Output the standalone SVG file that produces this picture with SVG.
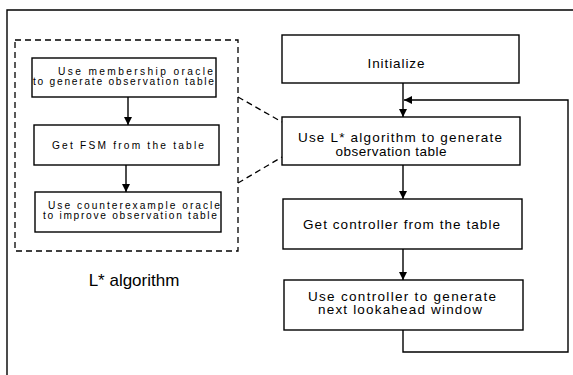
<svg xmlns="http://www.w3.org/2000/svg" width="573" height="375" viewBox="0 0 573 375">
<style>
.box{fill:#fff;stroke:#000;stroke-width:1.4}
.t{font-family:"Liberation Sans",Arial,sans-serif;font-size:13.5px;fill:#000;text-anchor:middle}
.s{font-family:"Liberation Sans",Arial,sans-serif;font-size:10.2px;fill:#000}
.ln{fill:none;stroke:#000;stroke-width:1.4}
.dash{fill:none;stroke:#000;stroke-width:1.3;stroke-dasharray:6,4}
</style>
<defs>
<marker id="ah" viewBox="0 0 10 10" refX="10" refY="5" markerWidth="8" markerHeight="11" markerUnits="userSpaceOnUse" orient="auto">
<path d="M0,0 L10,5 L0,10 z" fill="#000"/>
</marker>
</defs>
<rect width="573" height="375" fill="#fff"/>
<path class="ln" d="M7,375 V10 H573"/>
<g id="lstar-group">
<rect class="dash" x="15" y="40" width="223" height="211"/>
<text x="134" y="286" font-family="Liberation Sans, Arial, sans-serif" font-size="17" text-anchor="middle">L* algorithm</text>
</g>
<g id="n-membership">
<rect class="box" x="32" y="58" width="184" height="39"/>
<text class="s" x="213" y="74.5" text-anchor="end" textLength="155" lengthAdjust="spacing">Use membership oracle</text>
<text class="s" x="214" y="85" text-anchor="end" textLength="181" lengthAdjust="spacing">to generate observation table</text>
</g>
<g id="n-fsm">
<rect class="box" x="34" y="125" width="185" height="40"/>
<text class="s" x="52" y="148.5" textLength="152" lengthAdjust="spacing">Get FSM from the table</text>
</g>
<g id="n-counter">
<rect class="box" x="35" y="192" width="186" height="40"/>
<text class="s" x="220" y="208.5" text-anchor="end" textLength="172" lengthAdjust="spacing">Use counterexample oracle</text>
<text class="s" x="217" y="219" text-anchor="end" textLength="174" lengthAdjust="spacing">to improve observation table</text>
</g>
<g id="n-init">
<rect class="box" x="282" y="35" width="237" height="48"/>
<text class="t" x="396" y="68" textLength="57" lengthAdjust="spacing">Initialize</text>
</g>
<g id="n-lstar">
<rect class="box" x="282" y="117" width="238" height="48"/>
<text class="t" x="400" y="142" textLength="204" lengthAdjust="spacing">Use L* algorithm to generate</text>
<text class="t" x="391" y="155.5" textLength="111" lengthAdjust="spacing">observation table</text>
</g>
<g id="n-controller">
<rect class="box" x="283" y="199" width="239" height="50"/>
<text class="t" x="401.5" y="229" textLength="197" lengthAdjust="spacing">Get controller from the table</text>
</g>
<g id="n-window">
<rect class="box" x="284" y="280" width="239" height="50"/>
<text class="t" x="402" y="300.5" textLength="188" lengthAdjust="spacing">Use  controller to generate</text>
<text class="t" x="400" y="314" textLength="164" lengthAdjust="spacing">next lookahead window</text>
</g>
<g id="connectors">
<line class="ln" x1="128" y1="97" x2="128" y2="125" marker-end="url(#ah)"/>
<line class="ln" x1="126" y1="165" x2="126" y2="192" marker-end="url(#ah)"/>
<line class="ln" x1="403" y1="83" x2="403" y2="117" marker-end="url(#ah)"/>
<line class="ln" x1="403" y1="165" x2="403" y2="199" marker-end="url(#ah)"/>
<line class="ln" x1="403" y1="249" x2="403" y2="280" marker-end="url(#ah)"/>
<path class="ln" d="M403,330 V352 H568 V100 H404" marker-end="url(#ah)"/>
<line class="dash" x1="238" y1="97" x2="282" y2="122"/>
<line class="dash" x1="238" y1="183" x2="282" y2="157"/>
</g>
</svg>
